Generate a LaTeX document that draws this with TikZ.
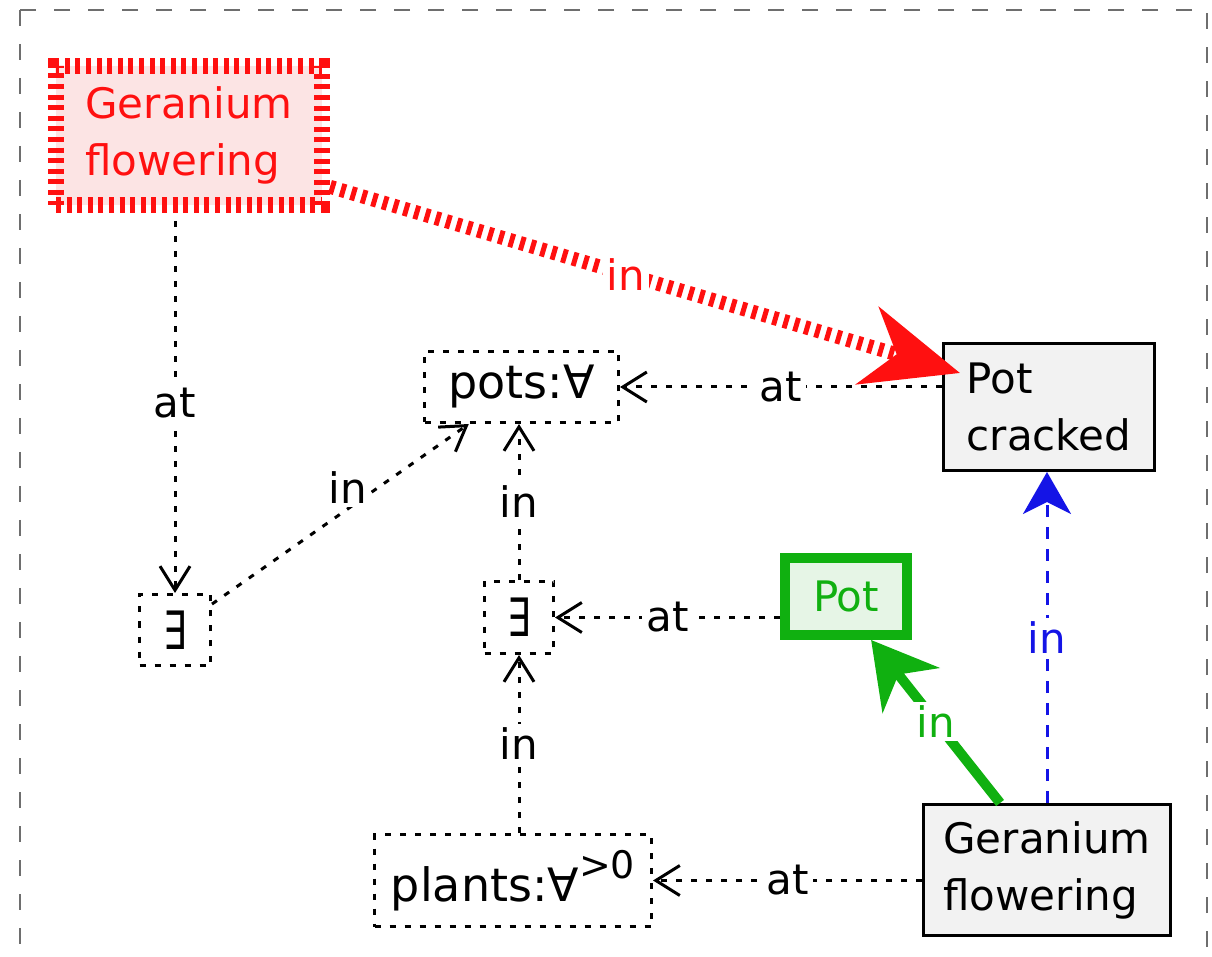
\documentclass[tikz,border=0pt]{standalone}
\usepackage{fontspec}
\setmainfont{DejaVu Sans}
\usepackage{tikz}
\usetikzlibrary{arrows.meta,positioning}
\definecolor{hlRed}{HTML}{FF1010}
\definecolor{hlRedFill}{HTML}{FCE4E4}
\definecolor{hlGreen}{HTML}{10B010}
\definecolor{hlGreenFill}{HTML}{E6F5E6}
\definecolor{hlBlue}{HTML}{1414E6}
\definecolor{boxGray}{HTML}{F2F2F2}
\definecolor{frameGray}{HTML}{6E6E6E}
\newcommand{\tallex}{\scalebox{0.8}[1.15]{∃}}

\begin{document}
\begin{tikzpicture}[
  x=0.5pt, y=-0.5pt,
  font=\fontsize{21}{28.5}\selectfont,
  quant/.style={rectangle, draw=black, line width=1.5pt, dash pattern=on 3pt off 4.5pt, inner sep=0pt, align=center, font=\fontsize{23}{28.5}\selectfont},
  fact/.style={rectangle, draw=black, line width=1.5pt, fill=boxGray, inner sep=0pt, align=left},
  hot/.style={rectangle, draw=hlRed, line width=8pt, dash pattern=on 2.5pt off 2.8pt, fill=hlRedFill, text=hlRed, inner sep=0pt, align=left},
  focus/.style={rectangle, draw=hlGreen, line width=5pt, fill=hlGreenFill, text=hlGreen, inner sep=0pt, align=center},
  link/.style={-{Straight Barb[length=12pt, width=15pt, line width=1.5pt]}, line width=1.5pt, dash pattern=on 3pt off 4.5pt},
  redlink/.style={-{Stealth[length=48pt, width=40pt, inset=15pt]}, draw=hlRed, line width=7pt, dash pattern=on 2.5pt off 3pt},
  greenlink/.style={-{Stealth[length=32pt, width=36pt, inset=10pt]}, draw=hlGreen, line width=5pt},
  bluelink/.style={-{Stealth[length=21pt, width=24pt, inset=6pt]}, draw=hlBlue, line width=1.5pt, dash pattern=on 6pt off 5pt},
  lbl/.style={fill=white, inner sep=2pt}
]
\useasboundingbox (0,0) rectangle (1212,957);
\draw[frameGray, line width=1.2pt, dash pattern=on 8pt off 9pt] (20,10) rectangle (1207,990);

% boxes
\node[hot, minimum width=133pt, minimum height=69.5pt] (redflower) at (189,135.5) {Geranium\\flowering};
\node[quant, minimum width=97pt, minimum height=35.5pt] (pots) at (521.5,387) {pots:∀};
\node[fact, minimum width=105.5pt, minimum height=63.5pt] (cracked) at (1049,407) {Pot\\cracked};
\node[quant, minimum width=35.5pt, minimum height=35.5pt] (exleft) at (175,630) {\tallex};
\node[quant, minimum width=34.5pt, minimum height=36pt] (exmid) at (519,617.5) {\tallex};
\node[focus, minimum width=61pt, minimum height=38.5pt] (pot) at (846,596.5) {Pot};
\node[quant, minimum width=138.5pt, minimum height=46pt] (plants) at (513,880.5) {plants:∀\raisebox{0.5em}{\fontsize{19}{19}\selectfont >0}};
\node[fact, minimum width=123.5pt, minimum height=65.5pt] (flower) at (1047,870) {Geranium\\flowering};

% relations
\draw[link, shorten <=4pt] (exleft |- redflower.south) -- node[lbl]{at} (exleft.north);
\draw[link] (exleft) -- node[lbl, pos=.53, above]{in} (pots);
\draw[link] (exmid.north) -- node[lbl]{in} (exmid.north |- pots.south);
\draw[link] (plants.north -| exmid) -- node[lbl]{in} (exmid.south);
\draw[link] (cracked.west |- pots.east) -- node[lbl]{at} (pots.east);
\draw[link] (pot.west |- exmid.east) -- node[lbl]{at} (exmid.east);
\draw[link] (flower.west |- plants.east) -- node[lbl]{at} (plants.east);
\draw[bluelink] (flower.north) -- node[lbl, text=hlBlue]{in} (flower.north |- cracked.south);
\draw[greenlink] (flower.125) -- node[lbl, text=hlGreen]{in} (pot.-60);
\draw[redlink] (redflower.-20) -- node[lbl, text=hlRed, pos=.47]{in} ([xshift=9pt, yshift=17pt]cracked.west);
\end{tikzpicture}
\end{document}
